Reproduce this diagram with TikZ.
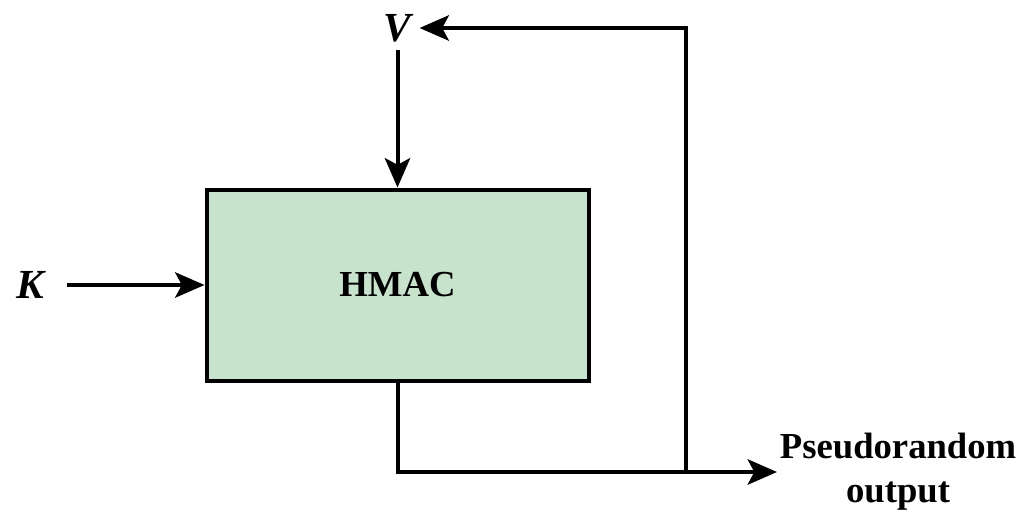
\documentclass[tikz,border=0pt]{standalone}
\usepackage{fontspec}
\setmainfont{Liberation Serif}
\usetikzlibrary{arrows.meta}
\definecolor{boxgreen}{RGB}{200,227,203}
\tikzset{
  conn/.style={line width=3pt},
  arr/.style={conn,-{Stealth[length=22pt,width=19pt,inset=5pt]}},
  lbl/.style={font=\fontsize{27.5}{29}\selectfont\bfseries},
  varlbl/.style={font=\fontsize{31}{33}\selectfont\bfseries\itshape},
}
\begin{document}
\begin{tikzpicture}[x=0.75pt,y=-0.75pt]
\useasboundingbox (0,0) rectangle (1025,517);
\node[draw,line width=3pt,fill=boxgreen,minimum width=382*0.75pt,minimum height=191*0.75pt,lbl] (hmac) at (397.5,285) {HMAC};
\node[varlbl,inner sep=6pt] (V) at (397.5,28) {V};
\node[varlbl,inner sep=3pt] (K) at (30,285) {K};
\node[font=\fontsize{27.5}{33}\selectfont\bfseries,align=center,anchor=west,inner sep=2pt] (out) at (777,472) {Pseudorandom\\output};
\coordinate (br) at (686,472);
\draw[arr] (V.south) -- (hmac.north);
\draw[arr,shorten <=14pt] (K) -- (hmac.west);
\draw[arr] (hmac.south) |- (out.west);
\draw[arr] (br) |- (V.east);
\end{tikzpicture}
\end{document}
